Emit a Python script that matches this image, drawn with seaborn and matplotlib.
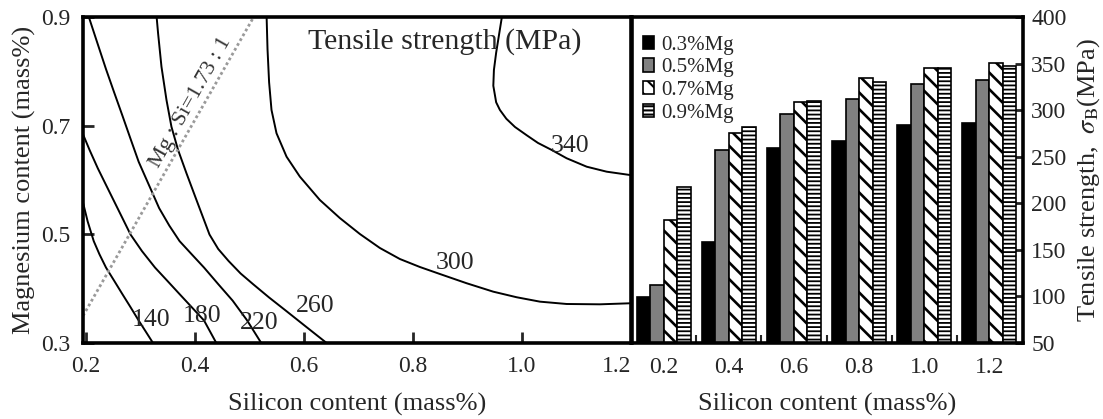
import numpy as np
import pandas as pd
import matplotlib
matplotlib.use("Agg")
import matplotlib.pyplot as plt
import seaborn as sns

# ---------------- data: contour map (Si mass%, Mg mass%) -------------
c140_si = [0.1945, 0.2035, 0.2147, 0.2252, 0.2372, 0.2522, 0.2672, 0.2822, 0.2971, 0.3106, 0.3234]
c140_mg = [0.5605, 0.5239, 0.4875, 0.4632, 0.4388, 0.4145, 0.3900, 0.3659, 0.3414, 0.3202, 0.3000]
c180_si = [0.1945, 0.2072, 0.2222, 0.2372, 0.2522, 0.2672, 0.2822, 0.3031, 0.3271, 0.3496,
           0.3721, 0.3946, 0.4170, 0.4395]
c180_mg = [0.6853, 0.6549, 0.6214, 0.5909, 0.5605, 0.5301, 0.4996, 0.4692, 0.4388, 0.4145,
           0.3900, 0.3657, 0.3414, 0.3000]
c220_si = [0.2057, 0.2214, 0.2372, 0.2522, 0.2672, 0.2821, 0.2971, 0.3158, 0.3346, 0.3533,
           0.3721, 0.3946, 0.4170, 0.4433, 0.4695, 0.4957, 0.5219]
c220_mg = [0.9000, 0.8520, 0.8040, 0.7610, 0.7187, 0.6760, 0.6335, 0.5910, 0.5483, 0.5160,
           0.4875, 0.4630, 0.4388, 0.4080, 0.3779, 0.3420, 0.3000]
c260_si = [0.3297, 0.3327, 0.3389, 0.3481, 0.3572, 0.3694, 0.3848, 0.4031, 0.4270, 0.4430,
           0.4620, 0.4840, 0.5069, 0.5360, 0.5669, 0.6040, 0.6418]
c260_mg = [0.9037, 0.8700, 0.8086, 0.7473, 0.6980, 0.6552, 0.6123, 0.5632, 0.4996, 0.4730,
           0.4509, 0.4280, 0.4083, 0.3840, 0.3596, 0.3300, 0.3000]
c300_si = [0.5316, 0.5334, 0.5363, 0.5407, 0.5499, 0.5683, 0.5927, 0.6294, 0.6660, 0.7028,
           0.7394, 0.7761, 0.8128, 0.8495, 0.8985, 0.9473, 0.9903, 1.0330, 1.0820, 1.1431,
           1.1982, 1.2100]
c300_mg = [0.9050, 0.8405, 0.7798, 0.7289, 0.6860, 0.6429, 0.6062, 0.5632, 0.5300, 0.5006,
           0.4749, 0.4546, 0.4399, 0.4270, 0.4100, 0.3945, 0.3842, 0.3761, 0.3718, 0.3712,
           0.3731, 0.3735]
c340_si = [0.9640, 0.9527, 0.9486, 0.9475, 0.9527, 0.9596, 0.9714, 0.9872, 1.0088, 1.0294,
           1.0545, 1.0820, 1.1187, 1.1554, 1.1982, 1.2100]
c340_mg = [0.9050, 0.8343, 0.8025, 0.7734, 0.7430, 0.7289, 0.7127, 0.6976, 0.6823, 0.6682,
           0.6553, 0.6400, 0.6245, 0.6153, 0.6092, 0.6080]

contour_levels = ["140", "180", "220", "260", "300", "340"]
label_si = [0.319, 0.414, 0.519, 0.621, 0.877, 1.088]
label_mg = [0.343, 0.349, 0.337, 0.369, 0.447, 0.663]

ratio_si = [0.195, 0.508]
ratio_mg = [0.350, 0.900]
ratio_text = "Mg : Si=1.73 : 1"

# ---------------- data: bar chart -------------
si_groups = ["0.2", "0.4", "0.6", "0.8", "1.0", "1.2"]
mg_levels = ["0.3%Mg", "0.5%Mg", "0.7%Mg", "0.9%Mg"]
ts_mg03 = [99, 158, 259, 267, 284, 286]
ts_mg05 = [112, 257, 296, 312, 328, 332]
ts_mg07 = [182, 275, 309, 335, 345, 351]
ts_mg09 = [218, 282, 310, 330, 345, 347]

# ---------------- style -------------
sns.set_style("ticks")
plt.rcParams["font.family"] = ["Liberation Serif", "DejaVu Serif"]
plt.rcParams["mathtext.fontset"] = "stix"
plt.rcParams["hatch.linewidth"] = 1.5
plt.rcParams["axes.linewidth"] = 2.2

fig = plt.figure(figsize=(11.03, 4.19), dpi=100)
ax1 = fig.add_axes([83 / 1103, 1 - 343 / 419, (631 - 83) / 1103, 326 / 419])
ax2 = fig.add_axes([632 / 1103, 1 - 343 / 419, (1023 - 632) / 1103, 326 / 419])

# ---------------- left: contour lines -------------
curves = [(c140_si, c140_mg), (c180_si, c180_mg), (c220_si, c220_mg),
          (c260_si, c260_mg), (c300_si, c300_mg), (c340_si, c340_mg)]
for xs, ys in curves:
    sns.lineplot(x=xs, y=ys, sort=False, estimator=None, color="black",
                 linewidth=1.4, ax=ax1)
for t, xs, ys in zip(contour_levels, label_si, label_mg):
    ax1.text(xs, ys, t, fontsize=18.5, ha="center", va="center")

sns.lineplot(x=ratio_si, y=ratio_mg, sort=False, estimator=None, color="#9a9a9a",
             linewidth=2.0, linestyle=(0, (1, 1)), ax=ax1)
ax1.text(0.392, 0.742, ratio_text, fontsize=16, rotation=60.5, ha="center",
         va="center", rotation_mode="anchor", color="#333333")
ax1.text(0.66, 0.925, "Tensile strength (MPa)", transform=ax1.transAxes,
         fontsize=21.5, ha="center", va="center")

ax1.set_xlim(0.195, 1.2)
ax1.set_ylim(0.3, 0.9)
ax1.set_xticks([0.2, 0.4, 0.6, 0.8, 1.0, 1.2])
ax1.set_xticklabels(["0.2", "0.4", "0.6", "0.8", "1.0", "1.2"])
ax1.set_yticks([0.3, 0.5, 0.7, 0.9])
ax1.set_yticklabels(["0.3", "0.5", "0.7", "0.9"])
ax1.tick_params(axis="both", direction="in", length=8, width=2, labelsize=17)
ax1.tick_params(axis="x", pad=9)
ax1.tick_params(axis="y", pad=9)
lbls = ax1.get_xticklabels()
lbls[-1].set_ha("right")
ax1.set_xlabel("Silicon content (mass%)", fontsize=19, labelpad=12)
ax1.set_ylabel("Magnesium content (mass%)", fontsize=19, labelpad=4)
for s in ax1.spines.values():
    s.set_linewidth(2.6)
    s.set_color("black")

# ---------------- right: bars -------------
rows = []
for lvl, vals in zip(mg_levels, [ts_mg03, ts_mg05, ts_mg07, ts_mg09]):
    for s, v in zip(si_groups, vals):
        rows.append({"si": s, "mg": lvl, "ts": v})
df = pd.DataFrame(rows)

sns.barplot(data=df, x="si", y="ts", hue="mg", order=si_groups, hue_order=mg_levels,
            palette=["black", "#808080", "white", "white"], saturation=1,
            edgecolor="black", linewidth=1.2, width=0.83, errorbar=None,
            legend=False, ax=ax2)
hatches = [None, None, "\\\\", "----"]
hatch_lw = [None, None, 1.9, 1.3]
for cont, h, hl in zip(ax2.containers, hatches, hatch_lw):
    for p in cont:
        p.set_edgecolor("black")
        if h:
            p.set_hatch(h)
            if hasattr(p, "set_hatch_linewidth"):
                p.set_hatch_linewidth(hl)

ax2.set_xlim(-0.49, 5.52)
ax2.set_ylim(50, 400)
ax2.set_yticks(range(50, 401, 50))
ax2.yaxis.tick_right()
ax2.yaxis.set_label_position("right")
ax2.tick_params(axis="y", direction="in", length=6, width=2, labelsize=17, pad=6)
ax2.tick_params(axis="x", which="major", length=0, labelsize=17, pad=10)
ax2.set_xticks([0.5, 1.5, 2.5, 3.5, 4.5], minor=True)
ax2.tick_params(axis="x", which="minor", direction="in", length=6, width=1.5)
ax2.set_xlabel("Silicon content (mass%)", fontsize=19, labelpad=11)
ax2.set_ylabel("Tensile strength,  $\\sigma_{\\rm B}$(MPa)", fontsize=19, labelpad=6)
for s in ax2.spines.values():
    s.set_linewidth(2.6)
    s.set_color("black")

leg = ax2.legend(handles=ax2.containers, labels=mg_levels, loc="upper left",
                 bbox_to_anchor=(0.028, 0.943), frameon=False, fontsize=15,
                 handlelength=0.55, handleheight=0.6, handletextpad=0.35,
                 labelspacing=0.18, borderpad=0, borderaxespad=0)

fig.savefig("out.png", dpi=100)
